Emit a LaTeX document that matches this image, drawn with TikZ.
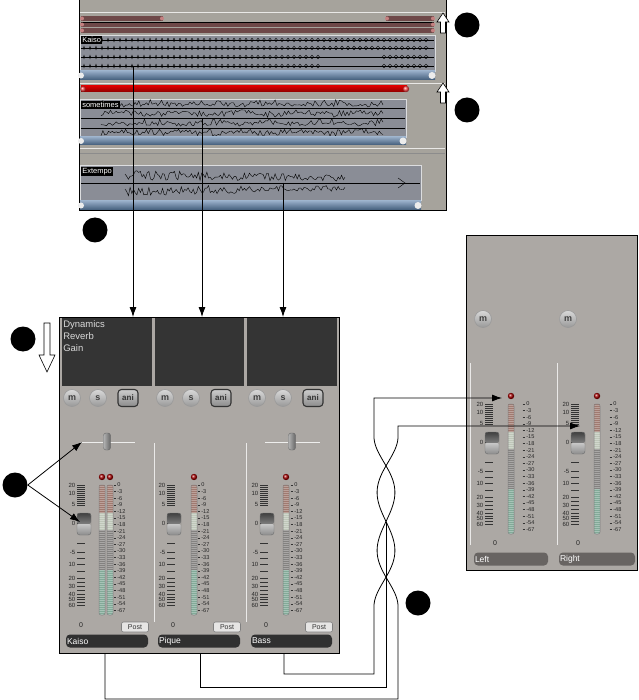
\documentclass[tikz,border=0pt]{standalone}
\usepackage{fontspec}
\setmainfont{Liberation Sans}
\usetikzlibrary{arrows.meta,positioning}

\definecolor{panelgray}{RGB}{166,163,156}
\definecolor{trackgray}{RGB}{138,141,150}
\definecolor{brownbar}{RGB}{110,72,72}
\definecolor{capred}{RGB}{196,128,128}
\definecolor{scrolltop}{RGB}{150,172,198}
\definecolor{scrollbot}{RGB}{66,92,122}
\definecolor{mixergray}{RGB}{172,168,164}
\definecolor{darkbox}{RGB}{52,52,52}
\definecolor{namedark}{RGB}{48,48,48}
\definecolor{namegray}{RGB}{104,100,98}
\definecolor{meterred}{RGB}{160,122,112}
\definecolor{meterpale}{RGB}{190,198,184}
\definecolor{metergray}{RGB}{132,130,128}
\definecolor{metergreen}{RGB}{130,170,152}

% 电平表
\newcommand{\meterbar}[2]{%
  \fill[meterred] (#1,#2) rectangle (#1+6,#2+28);
  \fill[meterpale] (#1,#2+28) rectangle (#1+6,#2+45);
  \fill[metergray] (#1,#2+45) rectangle (#1+6,#2+85);
  \fill[metergreen] (#1,#2+85) rectangle (#1+6,#2+130);
  \foreach \k in {1,3,...,129}
    \draw[white,opacity=0.3,line width=0.4pt] (#1,#2+\k) -- (#1+6,#2+\k);
  \draw[black!50,line width=0.5pt,rounded corners=2pt] (#1,#2) rectangle (#1+6,#2+130);
  \shade[ball color=red!65!black] (#1+3,#2-8) circle (3.2);
}

% 推子 + 刻度 + 电平表
\newcommand{\chanstrip}[4]{%
  \foreach \v/\d in {20/0,10/8,5/19,0/38,-5/67,10/79,20/93,30/101,40/109,50/114,60/120}
    \node[faderlbl,anchor=east] at (#1,#2+\d) {\v};
  \foreach \d in {0,2,...,20,29,38,48,58,67,73,79,86,93,97,101,105,109,112,114,117,120}
    \draw[tickline] (#1+1,#2+\d) -- (#1+9,#2+\d);
  \shade[top color=black!75,bottom color=black!50,rounded corners=2pt] (#1+1,#2+28) rectangle (#1+15,#2+39);
  \shade[top color=black!22,bottom color=black!45,rounded corners=2pt] (#1+1,#2+39) rectangle (#1+15,#2+50);
  \draw[black!55,line width=0.4pt,rounded corners=3pt] (#1+1,#2+28) rectangle (#1+15,#2+50);
  \meterbar{#3}{#2}
  \foreach \v [count=\i from 0] in {0,-3,-6,-9,-12,-15,-18,-21,-24,-27,-30,-33,-36,-39,-42,-45,-48,-51,-54,-67}
    {\draw[tickline] (#4-3.5,#2+\i*6.6) -- (#4-1,#2+\i*6.6);
     \node[meterlbl,anchor=west] at (#4,#2+\i*6.6) {\v};}
}

\begin{document}
\begin{tikzpicture}[x=1pt,y=-1pt,>={Latex[length=10pt,width=7pt]},line width=0.6pt,
  callout/.style={circle,fill=black,minimum size=25pt,inner sep=0pt},
  trk/.style={fill=trackgray,draw=white!70!trackgray,line width=0.5pt},
  trklbl/.style={fill=black,text=white,font=\fontsize{7.5}{8}\selectfont,inner sep=1pt,anchor=north west},
  wave/.style={line width=0.4pt,black},
  faderlbl/.style={font=\fontsize{6}{6}\selectfont,inner sep=0.5pt,text=black!85},
  meterlbl/.style={font=\fontsize{5.6}{6}\selectfont,inner sep=0pt,text=black!85},
  tickline/.style={line width=0.5pt,black!80},
  roundbtn/.style={circle,minimum size=17pt,inner sep=0pt,draw=black!40,top color=white!85!black,
    bottom color=black!40,text=black!75,font=\fontsize{9}{9}\selectfont\bfseries},
  anibtn/.style={rectangle,rounded corners=3.5pt,minimum width=20pt,minimum height=17pt,inner sep=0pt,
    draw=black!80,line width=1.1pt,top color=black!20,bottom color=black!45,text=black!80,
    font=\fontsize{8}{8}\selectfont\bfseries},
  panline/.style={white!80!mixergray,line width=1pt},
  panknob/.style={rounded corners=2.5pt,left color=black!30,right color=black!60,draw=black!60,line width=0.4pt},
  divline/.style={white!75!mixergray,line width=1pt},
  zerolbl/.style={font=\fontsize{7}{7}\selectfont,text=black!85,inner sep=0pt},
  postbtn/.style={rectangle,rounded corners=2pt,minimum width=27pt,minimum height=10pt,inner sep=0pt,
    draw=black!50,fill=white!70!mixergray,font=\fontsize{7}{7}\selectfont,text=black!80},
  namefield/.style={rectangle,rounded corners=4pt,minimum height=13pt,inner sep=1pt,fill=namedark,
    text=white,font=\fontsize{8.5}{9}\selectfont,align=left},
  conn/.style={->,line width=0.8pt}]

  \pgfmathsetseed{42}
  \fill[white] (0,0) rectangle (638,700);
  \useasboundingbox (0,0) rectangle (638,700);

  % 编排窗口
  \fill[panelgray] (79,0) rectangle (446,211);
  \draw[line width=1pt] (79,0) -- (79,211) -- (446,211) -- (446,0);
  \draw[white!75!panelgray] (80,12) -- (445,12);
  \fill[brownbar] (81,16) rectangle (163,21);
  \fill[brownbar] (386,16) rectangle (434,21);
  \fill[brownbar] (81,22) rectangle (434,27);
  \fill[brownbar] (81,28) rectangle (434,33);
  \draw[black,line width=0.5pt] (81,22) -- (434,22);
  \foreach \y in {18.5,24.5,30.5}
    {\fill[capred] (82,\y) circle (2); \fill[capred] (433,\y) circle (2);}
  \fill[capred] (162,18.5) circle (2);
  \fill[capred] (387,18.5) circle (2);

  \draw[trk] (80,35) rectangle (435,71);
  \foreach \y in {40,48,57,66} \draw[wave] (81,\y) -- (434,\y);
  \foreach \y in {40,48}
    \foreach \x in {84,90,...,430}
      \draw[wave] (\x,\y) circle [x radius={0.6+1.4*(\x-84)/346}, y radius=1.8];
  \foreach \y in {57,66}
    \foreach \x in {84,90,...,320,384,390,...,430}
      \draw[wave] (\x,\y) circle [x radius={0.6+1.4*(\x-84)/346}, y radius=1.8];
  \node[trklbl] (lblKaiso) at (81,36) {Kaiso};
  \shade[top color=scrolltop,bottom color=scrollbot] (80,71) rectangle (435,80);
  \fill[white!85!gray] (81,75.5) circle (3);
  \fill[white!85!gray] (432,75.5) circle (3.5);

  \draw[white!75!panelgray] (80,83) -- (445,83);
  \shade[top color=red!85!black,bottom color=red!55!black] (81,86) rectangle (407,92);
  \shade[ball color=red!70] (406,89) circle (3.2);
  \shade[ball color=red!70] (83,89) circle (2.8);

  \draw[trk] (80,99) rectangle (406,137);
  \foreach \y in {108,118,128} \draw[wave] (81,\y) -- (405,\y);
  \foreach \c in {108.5,127.5}
    {\draw[wave] plot[domain=101:383,samples=150] (\x,{\c-(2+7*rnd)*(0.55+0.45*abs(sin(\x*3)))});
     \draw[wave] plot[domain=101:383,samples=150] (\x,{\c+(2+7*rnd)*(0.55+0.45*abs(sin(\x*3)))});}
  \node[trklbl] (lblSome) at (81,101) {sometimes};
  \shade[top color=scrolltop,bottom color=scrollbot] (80,137) rectangle (406,145);
  \fill[white!85!gray] (81,141) circle (3);
  \fill[white!85!gray] (403,141) circle (3.5);
  \draw[white!75!panelgray] (80,148) -- (445,148);
  \draw[black!45] (80,153) -- (445,153);

  \draw[trk] (80,165) rectangle (421,200);
  \draw[wave] (81,183) -- (420,183);
  \draw[wave] plot[domain=125:345,samples=130] (\x,{183-(3+10*rnd)*(1-0.4*(\x-125)/220)});
  \draw[wave] plot[domain=125:345,samples=130] (\x,{183+(3+10*rnd)*(1-0.4*(\x-125)/220)});
  \draw[wave] (398,178) -- (405,183) -- (398,188);
  \node[trklbl] (lblExt) at (81,167) {Extempo};
  \shade[top color=scrolltop,bottom color=scrollbot] (80,201) rectangle (421,210);
  \fill[white!85!gray] (81,205.5) circle (3);
  \fill[white!85!gray] (418,205.5) circle (3.5);

  % 空心箭头
  \draw[fill=white] (443,13) -- (449,22) -- (445.5,22) -- (445.5,33) -- (440.5,33) -- (440.5,22) -- (437,22) -- cycle;
  \draw[fill=white] (443,83) -- (449,92) -- (445.5,92) -- (445.5,103) -- (440.5,103) -- (440.5,92) -- (437,92) -- cycle;
  \draw[fill=white] (44,323) -- (50,323) -- (50,355) -- (55,355) -- (47,372) -- (39,355) -- (44,355) -- cycle;

  % 调音台
  \fill[mixergray] (59,317) rectangle (339,653);
  \draw[line width=1pt] (59,317) rectangle (339,653);
  \fill[darkbox] (62,318) rectangle (152,386);
  \fill[darkbox] (155,318) rectangle (244,386);
  \fill[darkbox] (247,318) rectangle (337,386);
  \node[anchor=north west,align=left,inner sep=1pt,text=white!85!black,
    font=\fontsize{9.5}{12}\selectfont] (fxList) at (62,319) {Dynamics\\Reverb\\Gain};
  \foreach \dx/\nm in {0/a,93/b,185/c}
    {\node[roundbtn] (mute\nm) at (72+\dx,398) {m};
     \node[roundbtn] (solo\nm) at (98+\dx,398) {s};
     \node[anibtn] (ani\nm) at (128+\dx,398) {ani};}
  \draw[panline] (80,442) -- (135,442);
  \draw[panline] (265,442) -- (320,442);
  \draw[panknob] (103.5,433) rectangle (110.5,450);
  \draw[panknob] (288.5,433) rectangle (295.5,450);
  \draw[divline] (154,443) -- (154,622);
  \draw[divline] (246,443) -- (246,622);

  \chanstrip{76}{485}{99}{117}
  \meterbar{107}{485}
  \chanstrip{166}{485}{191}{201}
  \chanstrip{259}{485}{283}{294}

  \node[zerolbl] (zeroA) at (81,625) {0};
  \node[zerolbl] (zeroB) at (173,625) {0};
  \node[zerolbl] (zeroC) at (266,625) {0};
  \node[postbtn] (postA) at (135,627) {Post};
  \node[postbtn] (postB) at (227,627) {Post};
  \node[postbtn] (postC) at (319,627) {Post};
  \node[namefield,text width=80pt] (nmKaiso) at (107,641) {Kaiso};
  \node[namefield,text width=80pt] (nmPique) at (199,641) {Pique};
  \node[namefield,text width=79pt] (nmBass) at (291.5,641) {Bass};

  % 主输出
  \fill[mixergray] (466,236) rectangle (637,570);
  \draw[line width=1pt] (466,236) rectangle (637,570);
  \node[roundbtn] (muteL) at (483,319) {m};
  \node[roundbtn] (muteR) at (568,319) {m};
  \draw[divline] (470,363) -- (470,545);
  \draw[divline] (557,363) -- (557,545);
  \chanstrip{484}{404}{508}{526}
  \chanstrip{570}{404}{594}{613}
  \node[zerolbl] (zeroL) at (495,543) {0};
  \node[zerolbl] (zeroR) at (578,543) {0};
  \node[namefield,fill=namegray,text width=72pt] (nmLeft) at (511,559) {Left};
  \node[namefield,fill=namegray,text width=74pt] (nmRight) at (597,559) {Right};

  % 连线
  \coordinate (kaisoTap) at (133,66);
  \coordinate (someTap) at (202,118);
  \coordinate (extTap) at (283,183);
  \coordinate (fxKaiso) at (133,317);
  \coordinate (fxPique) at (202,317);
  \coordinate (fxBass) at (283,317);
  \draw[conn] (kaisoTap) -- (fxKaiso);
  \draw[conn] (someTap) -- (fxPique);
  \draw[conn] (extTap) -- (fxBass);

  \coordinate (outKaiso) at (105,653);
  \coordinate (outPique) at (200,653);
  \coordinate (outBass) at (284,653);
  \coordinate (inLeft) at (502,398);
  \coordinate (inRight) at (580,426);
  \draw[conn] (outKaiso) |- (398,699) -- (398,605)
    -- plot[domain=0:1,samples=70] ({386+12*(1-0.3*sin(180*\x))*cos(540*\x)},{605-167*\x}) |- (inLeft);
  \draw[conn] (outBass) |- (374,674) -- (374,605)
    -- plot[domain=0:1,samples=70] ({386-12*(1-0.3*sin(180*\x))*cos(540*\x)},{605-167*\x}) |- (inRight);
  \draw[line width=0.8pt] (outPique) |- (386,687) -- (386,522);

  % 标记
  \node[callout] (callA) at (467,25) {};
  \node[callout] (callB) at (467,110) {};
  \node[callout] (callC) at (95,230) {};
  \node[callout] (callD) at (23,339) {};
  \node[callout] (callE) at (15,485) {};
  \node[callout] (callF) at (418,603) {};
  \coordinate (panTip) at (82,442);
  \coordinate (faderTip) at (80,522);
  \draw[conn] (callE.east) -- (panTip);
  \draw[conn] (callE.east) -- (faderTip);
\end{tikzpicture}
\end{document}
